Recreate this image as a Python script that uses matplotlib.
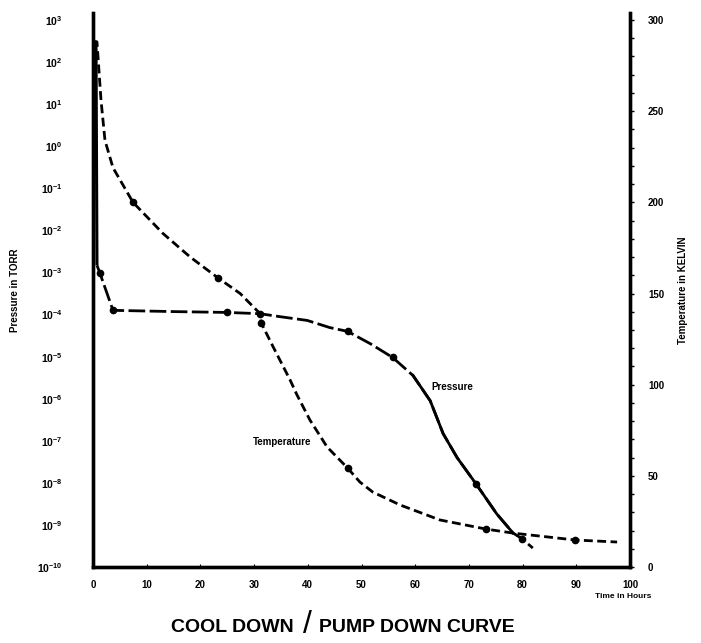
import numpy as np
import matplotlib.pyplot as plt
from matplotlib.ticker import FixedLocator

plt.rcParams['font.family'] = 'Liberation Sans'
plt.rcParams['font.weight'] = 'bold'
plt.rcParams['mathtext.fontset'] = 'custom'
plt.rcParams['mathtext.rm'] = 'Liberation Sans:bold'
plt.rcParams['mathtext.it'] = 'Liberation Sans:bold'
plt.rcParams['mathtext.bf'] = 'Liberation Sans:bold'

# pressure curve (hours, log10 torr)
p_hours = [0, 0.56, 0.74, 1.3, 3.72, 15.1, 25.0, 31.1, 34.8, 39.9, 44.1, 47.4, 51.6, 55.8,
           59.6, 62.8, 65.2, 67.8, 71.3, 75.2, 78.2, 79.9, 81.9]
p_log = [2.48, 2.48, -2.83, -3.02, -3.90, -3.93, -3.95, -3.98, -4.05, -4.14, -4.31, -4.40, -4.69, -5.02,
         -5.45, -6.05, -6.83, -7.40, -8.02, -8.74, -9.19, -9.33, -9.55]
p_dots = [1.3, 3.72, 25.0, 31.1, 47.4, 55.8, 71.3, 79.9]

# temperature curve (hours, kelvin)
t_hours = [0, 0.74, 1.49, 2.23, 3.72, 7.45, 13.0, 18.1, 23.3, 27.4, 31.1, 31.3, 33.5, 36.7, 38.0,
           40.4, 43.6, 47.4, 49.7, 52.1, 57.2, 64.6, 73.2, 78.2, 89.8, 97.6]
t_kelvin = [288, 288, 256, 234, 219, 200, 183, 170, 158.5, 150, 139, 134, 121, 102.6, 94.3,
            80.6, 65.8, 54.3, 46.6, 41.1, 34.0, 25.8, 20.8, 18.6, 14.8, 13.7]
t_dots = [7.45, 23.3, 31.3, 47.4, 73.2, 89.8]

x_ticks = list(range(0, 101, 10))
p_ticks = list(range(-10, 4))
t_ticks = list(range(0, 301, 50))

p_hours = np.array(p_hours)
p_val = 10.0 ** np.array(p_log)
t_hours = np.array(t_hours)
t_kelvin = np.array(t_kelvin)

fig = plt.figure(figsize=(7.01, 6.43), dpi=100)
ax = fig.add_axes([93/701, 76/643, 537/701, 554/643])
ax2 = ax.twinx()

ax.set_yscale('log')
ax.set_xlim(0, 100)
ax.set_ylim(1e-10, 10 ** (3 + 7/42))
ax2.set_ylim(0, 300 * 554 / 547)

# pressure: dashed, solid on the steep part
ax.plot(p_hours[:3], p_val[:3], color='black', lw=2.2, solid_capstyle='butt')
ax.plot(p_hours[2:], p_val[2:], color='black', lw=2, dashes=(6, 1.6))
steep = (p_hours >= 59.6) & (p_hours <= 78.2)
ax.plot(p_hours[steep], p_val[steep], color='black', lw=2)
pd_idx = [list(p_hours).index(h) for h in p_dots]
ax.plot(p_hours[pd_idx], p_val[pd_idx], 'o', color='black', ms=4.5)

# temperature: dashed
ax2.plot(t_hours, t_kelvin, color='black', lw=2, dashes=(3.2, 1.6))
td_idx = [list(t_hours).index(h) for h in t_dots]
ax2.plot(t_hours[td_idx], t_kelvin[td_idx], 'o', color='black', ms=4.5)

for a in (ax, ax2):
    a.spines['top'].set_visible(False)
    for s in ('left', 'right', 'bottom'):
        a.spines[s].set_linewidth(2.4)

ax.set_yticks([10.0 ** e for e in p_ticks])
ax.set_yticklabels([r'$10^{%d}$' % e for e in p_ticks])
ax.yaxis.set_minor_locator(FixedLocator([]))
ax.tick_params(axis='y', length=0, pad=22, labelsize=7.5)
ax.set_xticks(x_ticks)
ax.set_xticklabels([str(v) for v in x_ticks])
ax.tick_params(axis='x', length=2, direction='in', pad=9, labelsize=7)

ax2.set_yticks(t_ticks)
ax2.set_yticklabels([str(v) for v in t_ticks])
ax2.yaxis.set_minor_locator(FixedLocator(list(range(0, 301, 10))))
ax2.tick_params(axis='y', which='major', length=3, width=1, pad=10, labelsize=7)
ax2.tick_params(axis='y', which='minor', length=3, width=1)

fig.text(15/701, 1 - 290/643, 'Pressure in TORR', rotation=90, ha='center', va='center', fontsize=7)
fig.text(683/701, 1 - 290/643, 'Temperature in KELVIN', rotation=90, ha='center', va='center', fontsize=7)
fig.text(623/701, 1 - 596/643, 'Time in Hours', ha='center', va='center', fontsize=6)

fig.text(452/701, 1 - 387/643, 'Pressure', ha='center', va='center', fontsize=7)
fig.text(282/701, 1 - 442/643, 'Temperature', ha='center', va='center', fontsize=7)

# title with a tall slash
fig.text(294/701, 1 - 628/643, 'COOL DOWN', ha='right', va='center', fontsize=14)
fig.text(307/701, 1 - 625/643, '/', ha='center', va='center', fontsize=23, fontweight='normal')
fig.text(319/701, 1 - 628/643, 'PUMP DOWN CURVE', ha='left', va='center', fontsize=14)

fig.savefig('out.png', dpi=100)
